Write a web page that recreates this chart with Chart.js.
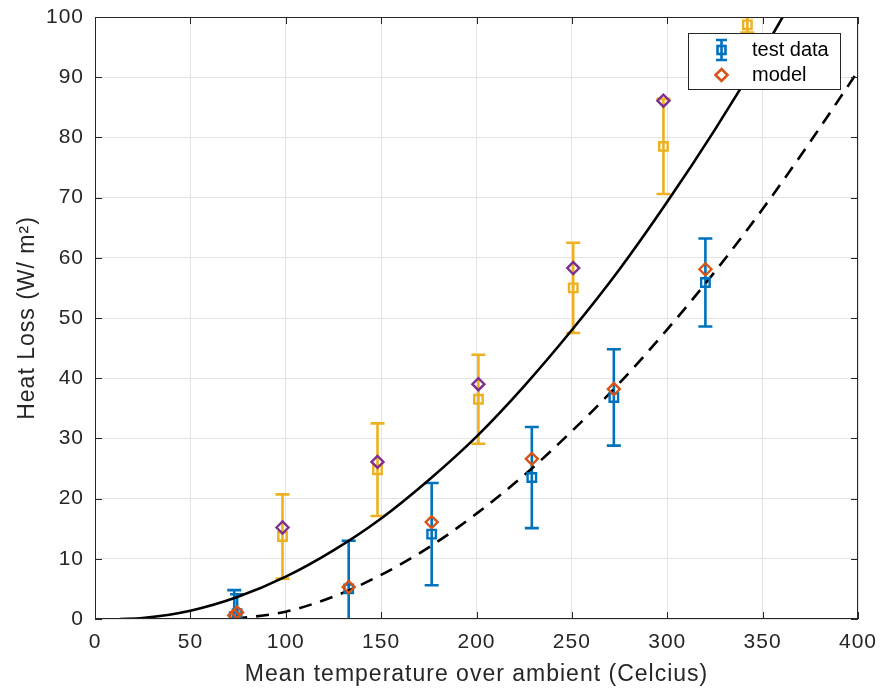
<!DOCTYPE html>
<html>
<head>
<meta charset="utf-8">
<script src="https://cdn.jsdelivr.net/npm/chart.js@4.4.1/dist/chart.umd.min.js"></script>
<style>
  html, body { margin: 0; padding: 0; background: #fff; }
  #wrap { width: 880px; height: 690px; }
</style>
</head>
<body>
<div id="wrap"><canvas id="heatChart" width="880" height="690"></canvas></div>
<script>
// valores
const testX = [73, 74.5, 133, 176.5, 229, 272, 320];
const testY = [0.4, 0.9, 5.0, 14.1, 23.5, 36.8, 55.9];
const testErr = [4.4, 3.2, 8.0, 8.5, 8.4, 8.0, 7.3];
const modelY = [0.6, 1.1, 5.3, 16.1, 26.6, 38.2, 58.1];

const hotX = [98.3, 148.1, 201, 250.7, 298, 342];
const hotY = [13.7, 24.8, 36.5, 55.0, 78.5, 98.7];
const hotErr = [7.0, 7.7, 7.4, 7.5, 7.9, 1.3];
const hotModelX = [98.3, 148.1, 201, 250.7, 298];
const hotModelY = [15.2, 26.1, 39.0, 58.3, 86.1];

// curvas (continua y discontinua)
const solidX = [13, 25, 50, 75, 100, 125, 150, 175, 200, 225, 250, 275, 300, 325, 350, 360.5];
const solidY = [0, 0.16, 1.37, 3.68, 7.03, 11.4, 16.7, 23.1, 30.3, 38.7, 48.0, 58.1, 69.3, 81.3, 94.2, 100];
const dashX = [73, 100, 125, 150, 175, 200, 225, 250, 275, 300, 325, 350, 375, 400];
const dashY = [0, 1.22, 3.72, 7.33, 11.9, 17.5, 23.9, 31.2, 39.2, 48.1, 57.7, 68.1, 79.3, 91.0];

const xTicks = [0, 50, 100, 150, 200, 250, 300, 350, 400];
const yTicks = [0, 10, 20, 30, 40, 50, 60, 70, 80, 90, 100];
const legendLabels = ['test data', 'model'];

const BLUE = '#0072BD';
const ORANGE = '#D95319';
const YELLOW = '#EDB120';
const PURPLE = '#7E2F8E';
const AXIS = '#262626';
const FONT = "'Liberation Sans', Arial, sans-serif";

const toPoints = (xs, ys) => xs.map((v, i) => ({ x: v, y: ys[i] }));

// texto un poco más espaciado, como en la figura original
const spacing = {
    id: 'spacing',
    beforeInit(chart) { chart.ctx.letterSpacing = '1px'; },
    beforeDraw(chart) { chart.ctx.letterSpacing = '1px'; }
};

// barras de error dibujadas con las escalas del gráfico
const errorBars = {
    id: 'errorBars',
    beforeDatasetsDraw(chart) {
        const { ctx, chartArea: a, scales: { x, y } } = chart;
        ctx.save();
        ctx.beginPath();
        ctx.rect(a.left, a.top, a.right - a.left, a.bottom - a.top);
        ctx.clip();
        const draw = (xs, ys, errs, color) => {
            ctx.strokeStyle = color;
            ctx.lineWidth = 2.6;
            xs.forEach((v, i) => {
                const px = x.getPixelForValue(v);
                const top = y.getPixelForValue(ys[i] + errs[i]);
                const bot = y.getPixelForValue(ys[i] - errs[i]);
                ctx.beginPath();
                ctx.moveTo(px, top); ctx.lineTo(px, bot);
                ctx.moveTo(px - 7, top); ctx.lineTo(px + 7, top);
                ctx.moveTo(px - 7, bot); ctx.lineTo(px + 7, bot);
                ctx.stroke();
            });
        };
        draw(hotX, hotY, hotErr, YELLOW);
        draw(testX, testY, testErr, BLUE);
        ctx.restore();
    }
};

// marco con marcas hacia dentro (estilo MATLAB)
const axesBox = {
    id: 'axesBox',
    afterDatasetsDraw(chart) {
        const { ctx, chartArea: a, scales: { x, y } } = chart;
        ctx.save();
        ctx.strokeStyle = AXIS;
        ctx.lineWidth = 1;
        ctx.strokeRect(a.left + 0.5, a.top + 0.5, a.right - a.left - 1, a.bottom - a.top - 1);
        ctx.beginPath();
        xTicks.forEach(v => {
            const px = Math.round(x.getPixelForValue(v)) + 0.5;
            ctx.moveTo(px, a.bottom); ctx.lineTo(px, a.bottom - 7);
            ctx.moveTo(px, a.top); ctx.lineTo(px, a.top + 7);
        });
        yTicks.forEach(v => {
            const py = Math.round(y.getPixelForValue(v)) + 0.5;
            ctx.moveTo(a.left, py); ctx.lineTo(a.left + 7, py);
            ctx.moveTo(a.right, py); ctx.lineTo(a.right - 7, py);
        });
        ctx.stroke();
        ctx.restore();
    }
};

// leyenda dentro del área
const boxLegend = {
    id: 'boxLegend',
    afterDraw(chart) {
        const { ctx } = chart;
        const bx = 688.5, by = 33.5, bw = 152, bh = 56;
        ctx.save();
        ctx.letterSpacing = '0px';
        ctx.fillStyle = '#fff';
        ctx.fillRect(bx, by, bw, bh);
        ctx.strokeStyle = AXIS;
        ctx.lineWidth = 1;
        ctx.strokeRect(bx, by, bw, bh);

        const ix = 721.5;
        // icono barra de error
        ctx.strokeStyle = BLUE;
        ctx.lineWidth = 2.6;
        ctx.beginPath();
        ctx.moveTo(ix, 40); ctx.lineTo(ix, 60);
        ctx.moveTo(ix - 5.5, 40); ctx.lineTo(ix + 5.5, 40);
        ctx.moveTo(ix - 5.5, 60); ctx.lineTo(ix + 5.5, 60);
        ctx.stroke();
        ctx.strokeRect(ix - 4, 46, 8, 8);
        // icono rombo
        ctx.strokeStyle = ORANGE;
        ctx.beginPath();
        ctx.moveTo(ix, 69); ctx.lineTo(ix + 6, 75);
        ctx.lineTo(ix, 81); ctx.lineTo(ix - 6, 75);
        ctx.closePath();
        ctx.stroke();

        ctx.fillStyle = '#000';
        ctx.font = '20px ' + FONT;
        ctx.textBaseline = 'middle';
        ctx.fillText(legendLabels[0], 752, 50);
        ctx.fillText(legendLabels[1], 752, 75);
        ctx.restore();
    }
};

const markerSet = (label, data, style, color, radius, order) => ({
    type: 'scatter',
    label: label,
    data: data,
    showLine: false,
    pointStyle: style,
    pointRadius: radius,
    pointBorderWidth: 2.4,
    pointBorderColor: color,
    pointBackgroundColor: 'rgba(0,0,0,0)',
    order: order
});

const lineSet = (data, dash, order) => ({
    type: 'line',
    data: data,
    borderColor: '#000',
    borderWidth: 2.6,
    borderDash: dash,
    pointRadius: 0,
    fill: false,
    cubicInterpolationMode: 'monotone',
    order: order
});

new Chart(document.getElementById('heatChart').getContext('2d'), {
    data: {
        datasets: [
            lineSet(toPoints(solidX, solidY), [], 5),
            lineSet(toPoints(dashX, dashY), [13, 9], 4),
            markerSet('hot data', toPoints(hotX, hotY), 'rect', YELLOW, 6, 3),
            markerSet('hot model', toPoints(hotModelX, hotModelY), 'rectRot', PURPLE, 6, 2),
            markerSet(legendLabels[0], toPoints(testX, testY), 'rect', BLUE, 6, 1),
            markerSet(legendLabels[1], toPoints(testX, modelY), 'rectRot', ORANGE, 6, 0)
        ]
    },
    options: {
        responsive: false,
        animation: false,
        devicePixelRatio: 1,
        layout: { padding: { top: 17, right: 22, left: 0, bottom: 0 } },
        scales: {
            x: {
                type: 'linear',
                min: 0,
                max: 400,
                afterBuildTicks: s => { s.ticks = xTicks.map(v => ({ value: v })); },
                afterFit: s => { s.height = 71; s.paddingLeft = 0; s.paddingRight = 0; },
                grid: { color: '#e3e3e3', drawTicks: false },
                border: { display: false },
                ticks: { color: AXIS, font: { family: FONT, size: 21 }, padding: 11, maxRotation: 0 },
                title: {
                    display: true,
                    text: 'Mean temperature over ambient (Celcius)',
                    color: AXIS,
                    font: { family: FONT, size: 23 },
                    padding: { top: 0, bottom: 2 }
                }
            },
            y: {
                type: 'linear',
                min: 0,
                max: 100,
                afterBuildTicks: s => { s.ticks = yTicks.map(v => ({ value: v })); },
                afterFit: s => { s.width = 95; s.paddingTop = 0; s.paddingBottom = 0; },
                grid: { color: '#e3e3e3', drawTicks: false },
                border: { display: false },
                ticks: { color: AXIS, font: { family: FONT, size: 21 }, padding: 11 },
                title: {
                    display: true,
                    text: 'Heat Loss (W/ m\u00B2)',
                    color: AXIS,
                    font: { family: FONT, size: 23 },
                    padding: { top: 14, bottom: 0 }
                }
            }
        },
        plugins: {
            legend: { display: false },
            tooltip: { enabled: false }
        }
    },
    plugins: [spacing, errorBars, axesBox, boxLegend]
});
</script>
</body>
</html>
